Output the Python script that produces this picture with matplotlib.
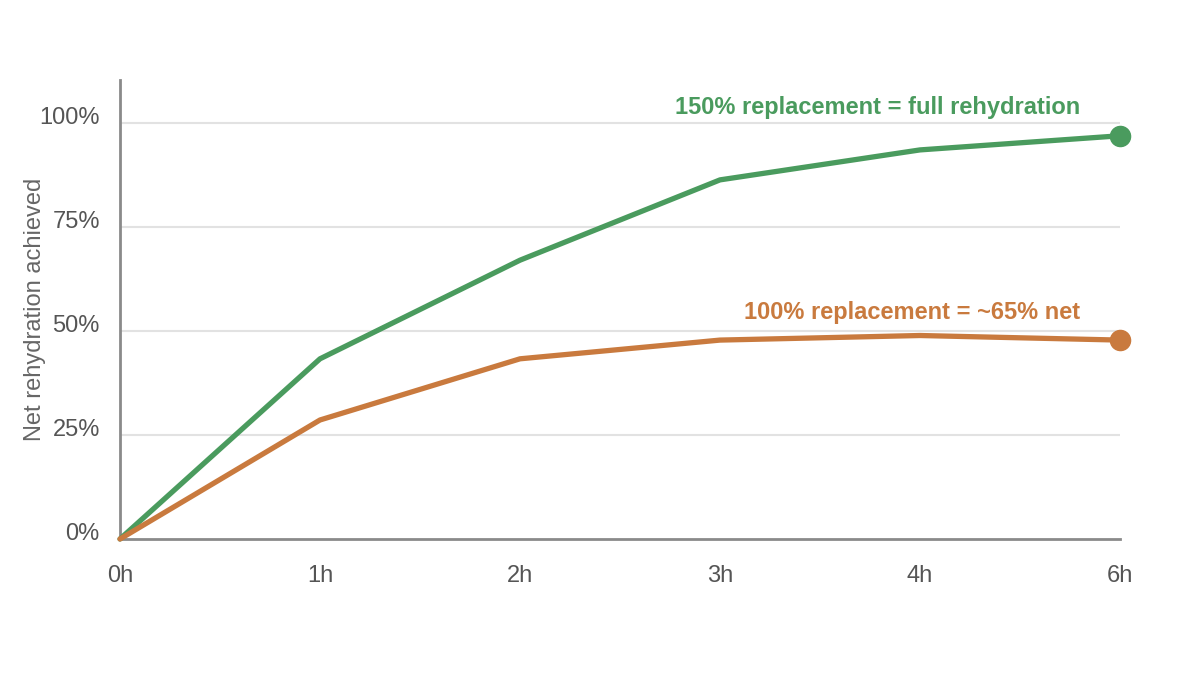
import matplotlib
matplotlib.use("Agg")
import matplotlib.pyplot as plt
import matplotlib.transforms as mtransforms

plt.rcParams['font.family'] = ['Liberation Sans', 'DejaVu Sans']

hours = ["0h", "1h", "2h", "3h", "4h", "6h"]
green_vals = [0, 43.3, 67.0, 86.3, 93.5, 96.9]
orange_vals = [0, 28.6, 43.3, 47.8, 48.9, 47.8]
yticks = [0, 25, 50, 75, 100]
ytick_labels = ["0%", "25%", "50%", "75%", "100%"]
green_label = "150% replacement = full rehydration"
orange_label = "100% replacement = ~65% net"

GREEN = "#4a9b5e"
ORANGE = "#c97a3e"

fig = plt.figure(figsize=(12, 6.8), dpi=100)
ax = fig.add_axes([0.1, 1 - 539/680, 1120/1200 - 0.1, (539 - 80)/680])

x = list(range(len(hours)))
ax.plot(x, green_vals, color=GREEN, lw=3.8, solid_capstyle='round', solid_joinstyle='round', clip_on=False, zorder=3)
ax.plot(x, orange_vals, color=ORANGE, lw=3.8, solid_capstyle='round', solid_joinstyle='round', clip_on=False, zorder=3)
ax.plot([x[-1]], [green_vals[-1]], 'o', color=GREEN, ms=14.5, clip_on=False, zorder=4)
ax.plot([x[-1]], [orange_vals[-1]], 'o', color=ORANGE, ms=14.5, clip_on=False, zorder=4)

ax.set_xlim(0, len(hours) - 1)
ax.set_ylim(0, 110.3)
ax.set_xticks(x)
ax.set_xticklabels(hours)
ax.set_yticks(yticks)
ax.set_yticklabels(ytick_labels)
ax.tick_params(axis='both', length=0, labelsize=17, labelcolor='#555555')
ax.tick_params(axis='x', pad=18.5)
ax.tick_params(axis='y', pad=14.5)

# shift y tick labels slightly upward like the reference
offset = mtransforms.ScaledTranslation(0, 7/100, fig.dpi_scale_trans)
for lbl in ax.get_yticklabels():
    lbl.set_transform(lbl.get_transform() + offset)

for v in yticks[1:]:
    ax.axhline(v, color='#e2e2e2', lw=1.5, zorder=1)

for s in ['top', 'right']:
    ax.spines[s].set_visible(False)
for s in ['left', 'bottom']:
    ax.spines[s].set_color('#8a8a8a')
    ax.spines[s].set_linewidth(2)

ax.set_ylabel("Net rehydration achieved", fontsize=17, color='#666666')
ax.yaxis.set_label_coords(-0.074, 0.5)

ax.text(4.8, 103.6, green_label, color=GREEN, fontsize=17, fontweight='bold', ha='right', va='center')
ax.text(4.8, 54.4, orange_label, color=ORANGE, fontsize=17, fontweight='bold', ha='right', va='center')

fig.savefig("out.png", dpi=100)
